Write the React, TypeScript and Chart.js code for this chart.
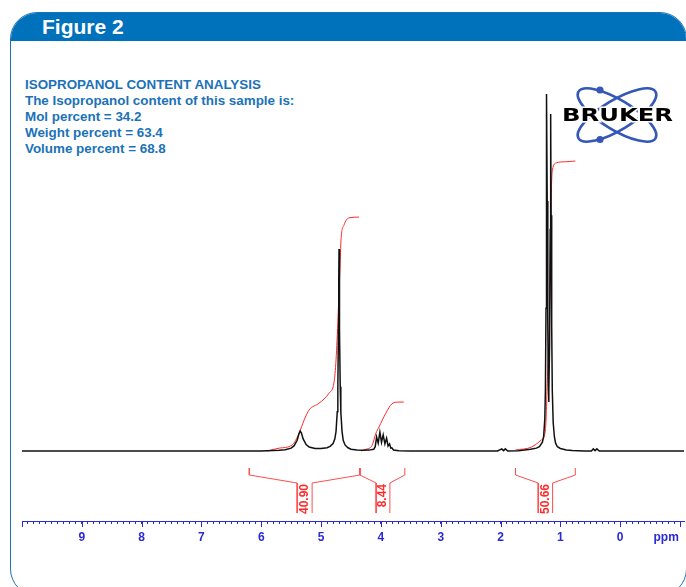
import React, { useEffect, useRef } from "react";
import { Chart, registerables } from "chart.js";
Chart.register(...registerables);

// ---- spectrum (chemical shift in ppm, relative intensity) ----
const specPpm = [
  10.0, 6.0, 5.7, 5.6, 5.5, 5.45, 5.4, 5.37, 5.35, 5.33, 5.3, 5.25, 5.2, 5.1, 5.0,
  4.9, 4.85, 4.8, 4.77, 4.75, 4.73, 4.72, 4.71, 4.705, 4.7, 4.695, 4.69, 4.68, 4.67,
  4.65, 4.63, 4.6, 4.55, 4.5, 4.4, 4.3, 4.2, 4.12, 4.095, 4.072, 4.045, 4.017, 3.99,
  3.962, 3.933, 3.905, 3.88, 3.855, 3.835, 3.817, 3.79, 3.7, 3.5, 2.05, 1.98, 1.95,
  1.92, 1.88, 1.7, 1.6, 1.5, 1.4, 1.35, 1.3, 1.28, 1.26, 1.25, 1.24, 1.235, 1.228,
  1.22, 1.21, 1.2, 1.195, 1.19, 1.18, 1.17, 1.162, 1.155, 1.145, 1.135, 1.12, 1.1,
  1.08, 1.05, 1.0, 0.9, 0.8, 0.6, 0.48, 0.45, 0.42, 0.39, 0.35, -1.07,
];
const specInt = [
  0, 0, 0.2, 0.35, 0.8, 1.5, 3.0, 4.8, 5.6, 5.1, 3.4, 1.8, 1.1, 0.7, 0.7,
  0.9, 1.3, 2.1, 3.4, 5.5, 11, 18, 34, 47, 56.6, 47, 34, 18, 11,
  5.5, 3.0, 1.7, 0.9, 0.5, 0.3, 0.2, 0.25, 0.5, 1.2, 3.9, 2.2, 5.3, 2.4,
  4.5, 2.0, 3.6, 1.4, 2.0, 0.8, 0.9, 0.3, 0.1, 0, 0, 0.6, 0.1,
  0.6, 0, 0.1, 0.3, 0.5, 0.8, 1.2, 2.5, 4, 9, 17, 40, 68, 100,
  70, 35, 18, 13.7, 17, 30, 62, 94.4, 66, 35, 17, 8, 4,
  2.2, 1.2, 0.7, 0.3, 0.15, 0, 0, 0.6, 0.1, 0.6, 0, 0,
];

// ---- integral curves ----
const int1Ppm = [5.9, 5.7, 5.483, 5.367, 5.283, 5.2, 5.033, 4.867, 4.783, 4.75, 4.717, 4.683, 4.667, 4.617, 4.533, 4.367];
const int1Val = [0, 0.8, 1.7, 5.0, 8.7, 11.5, 13.4, 16.2, 19.3, 25.5, 37.5, 51.5, 59.1, 63.3, 65.3, 65.5];
const int2Ppm = [4.333, 4.25, 4.15, 4.083, 4.033, 3.917, 3.817, 3.7, 3.617];
const int2Val = [0, 0.5, 1.5, 5.0, 6.7, 10.6, 13.2, 13.7, 13.7];
const int3Ppm = [1.75, 1.483, 1.317, 1.25, 1.217, 1.183, 1.167, 1.15, 1.133, 1.067, 0.917, 0.75];
const int3Val = [0.3, 1.1, 3.1, 5.9, 19.9, 38.7, 57.1, 73.1, 78.7, 80.7, 81.0, 81.2];

// ---- integral regions (brackets) ----
const intFrom = [6.2, 4.35, 1.75];
const intTo = [4.35, 3.6, 0.75];
const intInnerL = [5.4, 4.08, 1.37];
const intInnerR = [5.15, 3.85, 1.13];
const intValues = [40.9, 8.44, 50.66];
const bracketLevels = [-4.76, -6.72, -8.96, -17.37]; // top, shoulder, inner, bottom

// ---- axis ----
const X_MAX = 10;
const X_MIN = -1.07;
const Y_MIN = -19.6;
const Y_MAX = 126.3;
const tickLabels = ["0", "1", "2", "3", "4", "5", "6", "7", "8", "9"];

const infoLines = [
  "ISOPROPANOL CONTENT ANALYSIS",
  "The Isopropanol content of this sample is:",
  "Mol percent = 34.2",
  "Weight percent = 63.4",
  "Volume percent = 68.8",
];

const AXIS_BLUE = "#2a2ad2";
const RED = "#ff2a2a";
const BRACKET_RED = "#ff4d4d";
const FONT = '"Liberation Sans", Arial, Helvetica, sans-serif';

function zipXY(xs: number[], ys: number[]) {
  return xs.map((x, i) => ({ x, y: ys[i] }));
}

const decorPlugin = {
  id: "decor",
  afterDraw(chart: any) {
    const { ctx, chartArea, scales } = chart;
    const xs = scales.x;
    const ys = scales.y;
    ctx.save();
    // major ticks
    ctx.strokeStyle = AXIS_BLUE;
    ctx.lineWidth = 1;
    for (let v = -1; v <= 10; v++) {
      const px = Math.round(xs.getPixelForValue(v)) + 0.5;
      if (px < chartArea.left - 1 || px > chartArea.right + 1) continue;
      ctx.beginPath();
      ctx.moveTo(px, chartArea.bottom);
      ctx.lineTo(px, chartArea.bottom + 6);
      ctx.stroke();
    }
    // ppm unit
    ctx.fillStyle = AXIS_BLUE;
    ctx.font = "bold 12px " + FONT;
    ctx.textAlign = "center";
    ctx.textBaseline = "middle";
    ctx.fillText("ppm", chartArea.right - 18, chartArea.bottom + 16.5);

    // integral values
    ctx.fillStyle = RED;
    ctx.font = "bold 12px " + FONT;
    const yTop = ys.getPixelForValue(bracketLevels[2]) + 1;
    for (let i = 0; i < intValues.length; i++) {
      const cx = (xs.getPixelForValue(intInnerL[i]) + xs.getPixelForValue(intInnerR[i])) / 2;
      ctx.save();
      ctx.translate(cx, yTop);
      ctx.rotate(-Math.PI / 2);
      ctx.textAlign = "right";
      ctx.textBaseline = "middle";
      ctx.fillText(intValues[i].toFixed(2), 0, 0);
      ctx.restore();
    }

    // Bruker logo
    const lx = 617, ly = 115;
    ctx.strokeStyle = "#3557b7";
    ctx.lineWidth = 2.6;
    ctx.beginPath();
    ctx.ellipse(lx, ly, 45, 15, 0.545, 0, Math.PI * 2);
    ctx.stroke();
    ctx.beginPath();
    ctx.ellipse(lx, ly, 45, 15, -0.545, 0, Math.PI * 2);
    ctx.stroke();
    ctx.fillStyle = "#3557b7";
    ctx.beginPath();
    ctx.arc(600, 90, 3.6, 0, Math.PI * 2);
    ctx.fill();
    ctx.beginPath();
    ctx.arc(600, 139.5, 3.6, 0, Math.PI * 2);
    ctx.fill();
    ctx.font = 'bold 17px "DejaVu Sans", sans-serif';
    const w = ctx.measureText("BRUKER").width;
    ctx.translate(562, 116.5);
    ctx.scale(111 / w, 1);
    ctx.textAlign = "left";
    ctx.textBaseline = "middle";
    ctx.lineWidth = 3;
    ctx.strokeStyle = "#ffffff";
    ctx.strokeText("BRUKER", 0, 0);
    ctx.fillStyle = "#000000";
    ctx.fillText("BRUKER", 0, 0);
    ctx.restore();
  },
};

export default function App() {
  const ref = useRef<HTMLCanvasElement | null>(null);

  useEffect(() => {
    if (!ref.current) return;
    const brackets: any[] = [];
    for (let i = 0; i < intFrom.length; i++) {
      brackets.push({
        data: [
          { x: intFrom[i], y: bracketLevels[0] },
          { x: intFrom[i], y: bracketLevels[1] },
          { x: intInnerL[i], y: bracketLevels[2] },
          { x: intInnerL[i], y: bracketLevels[3] },
        ],
      });
      brackets.push({
        data: [
          { x: intInnerR[i], y: bracketLevels[3] },
          { x: intInnerR[i], y: bracketLevels[2] },
          { x: intTo[i], y: bracketLevels[1] },
          { x: intTo[i], y: bracketLevels[0] },
        ],
      });
    }
    const chart = new Chart(ref.current, {
      type: "line",
      data: {
        datasets: [
          {
            label: "spectrum",
            data: zipXY(specPpm, specInt),
            borderColor: "#111111",
            borderWidth: 1.5,
            pointRadius: 0,
            tension: 0,
          },
          ...[
            zipXY(int1Ppm, int1Val),
            zipXY(int2Ppm, int2Val),
            zipXY(int3Ppm, int3Val),
          ].map((d) => ({
            label: "integral",
            data: d,
            borderColor: RED,
            borderWidth: 1,
            pointRadius: 0,
            cubicInterpolationMode: "monotone" as const,
          })),
          ...brackets.map((b) => ({
            label: "bracket",
            data: b.data,
            borderColor: BRACKET_RED,
            borderWidth: 1,
            pointRadius: 0,
            tension: 0,
          })),
        ],
      },
      options: {
        animation: false,
        responsive: false,
        events: [],
        layout: { padding: { left: 22, right: 0, top: 0, bottom: 0 } },
        plugins: { legend: { display: false }, tooltip: { enabled: false } },
        scales: {
          x: {
            type: "linear",
            reverse: true,
            min: X_MIN,
            max: X_MAX,
            afterFit: (scale: any) => {
              scale.height = 66;
            },
            border: { display: true, color: AXIS_BLUE, width: 1 },
            grid: {
              display: true,
              drawOnChartArea: false,
              drawTicks: true,
              tickLength: 3,
              color: AXIS_BLUE,
              lineWidth: 1,
            },
            ticks: {
              stepSize: 0.1,
              autoSkip: false,
              maxRotation: 0,
              minRotation: 0,
              includeBounds: false,
              padding: 6,
              color: AXIS_BLUE,
              font: { family: FONT, size: 12, weight: "bold" },
              callback: (v: any) => {
                const n = Number(v);
                const r = Math.round(n);
                if (Math.abs(n - r) < 1e-6 && tickLabels.includes(String(r))) return String(r);
                return "";
              },
            },
          },
          y: {
            type: "linear",
            display: false,
            min: Y_MIN,
            max: Y_MAX,
          },
        },
      },
      plugins: [decorPlugin],
    });
    return () => chart.destroy();
  }, []);

  return (
    <div
      style={{
        position: "fixed",
        left: 0,
        top: 0,
        width: 686,
        height: 587,
        overflow: "hidden",
        background: "#ffffff",
      }}
    >
      <div
        style={{
          position: "absolute",
          left: 10,
          top: 12,
          width: 677,
          height: 584,
          border: "1.5px solid #1a74ba",
          borderRadius: 27,
          overflow: "hidden",
          boxSizing: "border-box",
        }}
      >
        <div
          style={{
            position: "absolute",
            left: 0,
            top: 0,
            right: 0,
            height: 28,
            background: "#0072bc",
          }}
        />
        <div
          style={{
            position: "absolute",
            left: 31,
            top: 0,
            height: 28,
            lineHeight: "28px",
            color: "#ffffff",
            fontFamily: FONT,
            fontWeight: "bold",
            fontSize: 21,
          }}
        >
          Figure 2
        </div>
      </div>
      <div
        style={{
          position: "absolute",
          left: 25,
          top: 77,
          color: "#1b72b8",
          fontFamily: FONT,
          fontWeight: "bold",
          fontSize: 13.4,
          lineHeight: "15.9px",
          whiteSpace: "nowrap",
        }}
      >
        {infoLines.map((t, i) => (
          <div key={i}>{t}</div>
        ))}
      </div>
      <canvas
        ref={ref}
        width={686}
        height={587}
        style={{ position: "absolute", left: 0, top: 0, width: 686, height: 587 }}
      />
    </div>
  );
}
